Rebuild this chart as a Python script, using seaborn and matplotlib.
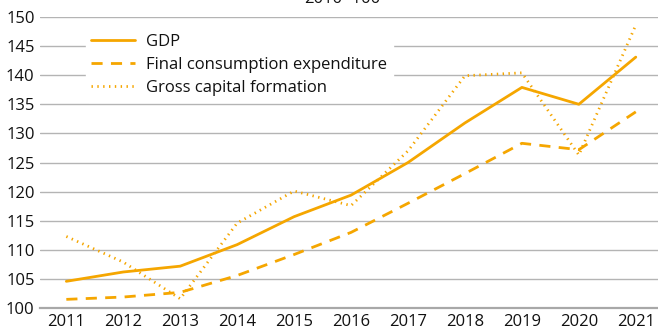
import matplotlib
matplotlib.use("Agg")
import matplotlib.pyplot as plt
import seaborn as sns
import pandas as pd

years = [2011, 2012, 2013, 2014, 2015, 2016, 2017, 2018, 2019, 2020, 2021]
gdp = [104.6, 106.2, 107.2, 110.9, 115.7, 119.4, 125.0, 131.8, 137.9, 135.0, 143.1]
final_consumption = [101.5, 101.9, 102.7, 105.6, 109.2, 113.0, 118.0, 123.1, 128.3, 127.2, 133.7]
gross_capital = [112.3, 107.9, 101.6, 114.6, 120.1, 117.6, 127.0, 139.9, 140.4, 126.3, 148.6]

series_names = ["GDP", "Final consumption expenditure", "Gross capital formation"]
y_ticks = [100, 105, 110, 115, 120, 125, 130, 135, 140, 145, 150]
subtitle = "2010=100"

df = pd.DataFrame({
    "year": years * 3,
    "value": gdp + final_consumption + gross_capital,
    "series": [series_names[0]] * len(years)
    + [series_names[1]] * len(years)
    + [series_names[2]] * len(years),
})

sns.set_theme(style="white")
plt.rcParams["font.family"] = ["Open Sans", "DejaVu Sans"]

orange = "#F5A600"
ink = "#111111"
fig = plt.figure(figsize=(6.58, 3.32), dpi=100)
ax = fig.add_axes([0.061, 0.072, 0.939, 0.877])

dash_styles = {
    series_names[0]: "",
    series_names[1]: (4, 3),
    series_names[2]: (0.5, 1.6),
}
sns.lineplot(
    data=df, x="year", y="value", style="series", dashes=dash_styles,
    color=orange, linewidth=2.0, ax=ax, legend=True,
)

ax.set_xlim(2010.54, 2021.39)
ax.set_ylim(100, 150)
ax.set_xticks(years)
ax.set_xticklabels([str(y) for y in years])
ax.set_yticks(y_ticks)
ax.set_xlabel("")
ax.set_ylabel("")
ax.grid(axis="y", color="#b4b4b4", linewidth=1.0)
ax.set_axisbelow(True)
for side in ["top", "right", "left"]:
    ax.spines[side].set_visible(False)
ax.spines["bottom"].set_color("#a8a8a8")
ax.spines["bottom"].set_linewidth(1.6)
ax.tick_params(axis="both", length=0, labelsize=12, colors=ink, pad=4)

leg = ax.legend(
    loc="upper left", bbox_to_anchor=(0.06, 0.99), frameon=True,
    facecolor="white", edgecolor="white", framealpha=1.0, fontsize=12,
    handlelength=2.6, handletextpad=0.7, labelspacing=0.42, borderpad=0.35,
)
for line in leg.get_lines():
    line.set_color(orange)
    line.set_linewidth(2.0)
for txt in leg.get_texts():
    txt.set_color(ink)

fig.text(0.52, 1.003, subtitle, ha="center", va="center", fontsize=12, color=ink)

fig.savefig("out.png", dpi=100)
